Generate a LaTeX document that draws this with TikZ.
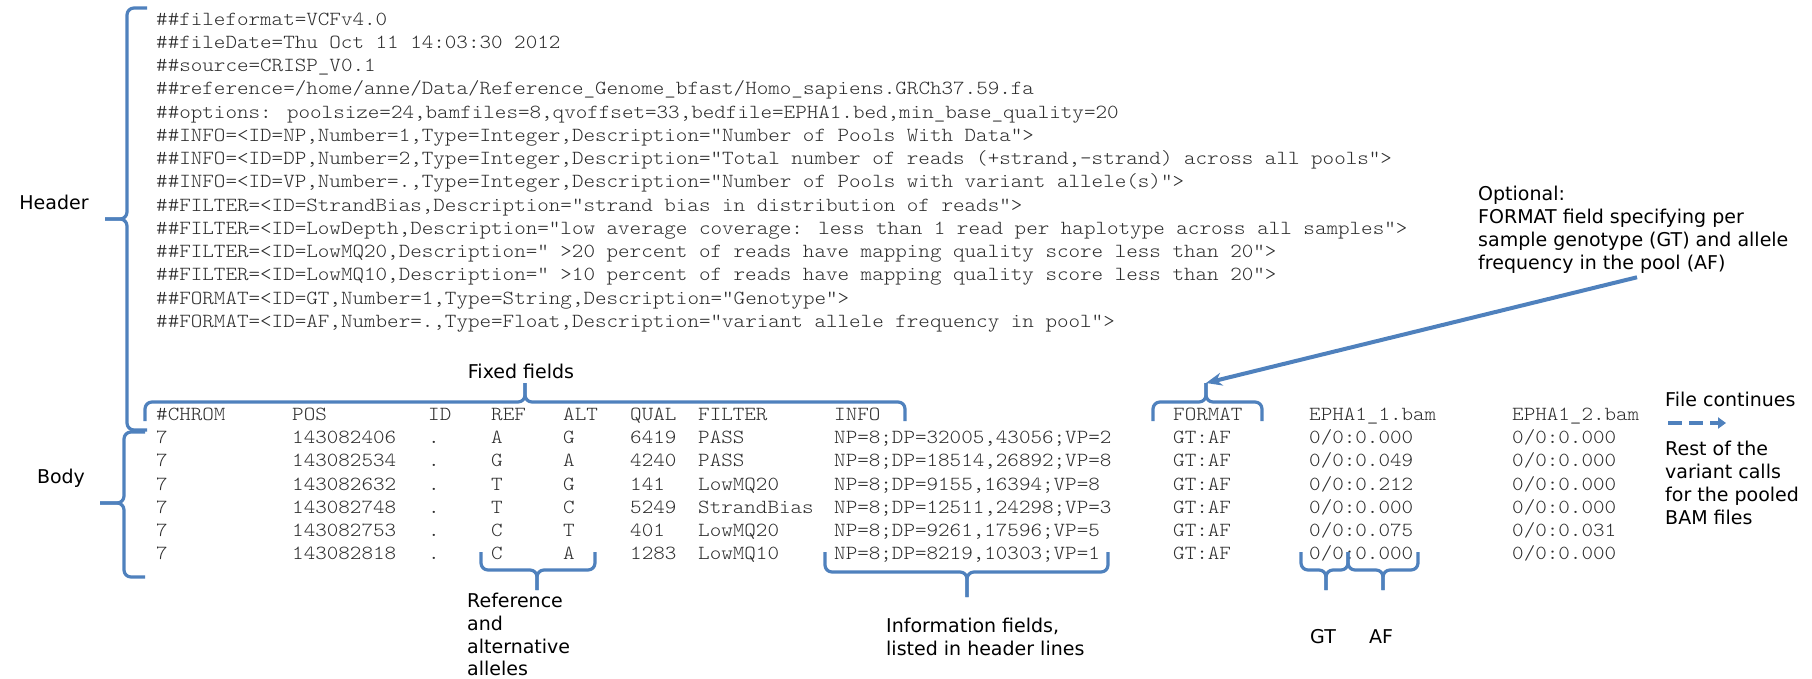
\documentclass[tikz,border=0pt]{standalone}
\usepackage{fontspec}
\newfontfamily\labelfont{DejaVu Sans}
\newfontfamily\codefont{lmmonolt10-regular.otf}[FakeStretch=1.1]
\usetikzlibrary{arrows.meta}
\definecolor{braceblue}{RGB}{79,129,189}
\definecolor{codegray}{RGB}{45,45,45}

\begin{document}
\begin{tikzpicture}[x=1pt,y=-1pt,
  code/.style={font=\codefont\fontsize{20}{24}\selectfont, text=codegray, anchor=mid west, inner sep=0pt},
  lbl/.style={font=\labelfont\fontsize{19}{23}\selectfont, text=black, inner sep=0pt, align=left},
  brace/.style={draw=braceblue, line width=3.2pt, rounded corners=7pt},
  pointer/.style={draw=braceblue, line width=4pt, -{Stealth[length=16pt,width=13pt]}},
  continues/.style={draw=braceblue, line width=4.5pt, dash pattern=on 14pt off 7pt, -{Triangle[length=8pt,width=11pt]}},
]
\useasboundingbox (0,0) rectangle (1812,679);
\fill[white] (0,0) rectangle (1812,679);

% ---------- header lines ----------
\node[code] (h1)  at (156,23.00)  {\#\#fileformat=VCFv4.0};
\node[code] (h2)  at (156,46.25)  {\#\#fileDate=Thu Oct 11 14:03:30 2012};
\node[code] (h3)  at (156,69.50)  {\#\#source=CRISP\_V0.1};
\node[code] (h4)  at (156,92.75)  {\#\#reference=/home/anne/Data/Reference\_Genome\_bfast/Homo\_sapiens.GRCh37.59.fa};
\node[code] (h5)  at (156,116.00) {\#\#options: poolsize=24,bamfiles=8,qvoffset=33,bedfile=EPHA1.bed,min\_base\_quality=20};
\node[code] (h6)  at (156,139.25) {\#\#INFO=<ID=NP,Number=1,Type=Integer,Description="Number of Pools With Data">};
\node[code] (h7)  at (156,162.50) {\#\#INFO=<ID=DP,Number=2,Type=Integer,Description="Total number of reads (+strand,-strand) across all pools">};
\node[code] (h8)  at (156,185.75) {\#\#INFO=<ID=VP,Number=.,Type=Integer,Description="Number of Pools with variant allele(s)">};
\node[code] (h9)  at (156,209.00) {\#\#FILTER=<ID=StrandBias,Description="strand bias in distribution of reads">};
\node[code] (h10) at (156,232.25) {\#\#FILTER=<ID=LowDepth,Description="low average coverage: less than 1 read per haplotype across all samples">};
\node[code] (h11) at (156,255.50) {\#\#FILTER=<ID=LowMQ20,Description=" >20 percent of reads have mapping quality score less than 20">};
\node[code] (h12) at (156,278.75) {\#\#FILTER=<ID=LowMQ10,Description=" >10 percent of reads have mapping quality score less than 20">};
\node[code] (h13) at (156,302.00) {\#\#FORMAT=<ID=GT,Number=1,Type=String,Description="Genotype">};
\node[code] (h14) at (156,325.25) {\#\#FORMAT=<ID=AF,Number=.,Type=Float,Description="variant allele frequency in pool">};

% ---------- body: column titles ----------
\node[code] (t-chrom)  at (156,418)  {\#CHROM};
\node[code] (t-pos)    at (292,418)  {POS};
\node[code] (t-id)     at (428,418)  {ID};
\node[code] (t-ref)    at (491,418)  {REF};
\node[code] (t-alt)    at (563,418)  {ALT};
\node[code] (t-qual)   at (630,418)  {QUAL};
\node[code] (t-filter) at (698,418)  {FILTER};
\node[code] (t-info)   at (834,418)  {INFO};
\node[code] (t-format) at (1173,418) {FORMAT};
\node[code] (t-s1)     at (1309,418) {EPHA1\_1.bam};
\node[code] (t-s2)     at (1512,418) {EPHA1\_2.bam};

% ---------- body: records ----------
\foreach \v [count=\i] in {7,7,7,7,7,7}
  \node[code] (chrom-\i) at (156,418+23.3*\i) {\v};
\foreach \v [count=\i] in {143082406,143082534,143082632,143082748,143082753,143082818}
  \node[code] (pos-\i) at (292,418+23.3*\i) {\v};
\foreach \v [count=\i] in {.,.,.,.,.,.}
  \node[code] (id-\i) at (428,418+23.3*\i) {\v};
\foreach \v [count=\i] in {A,G,T,T,C,C}
  \node[code] (ref-\i) at (491,418+23.3*\i) {\v};
\foreach \v [count=\i] in {G,A,G,C,T,A}
  \node[code] (alt-\i) at (563,418+23.3*\i) {\v};
\foreach \v [count=\i] in {6419,4240,141,5249,401,1283}
  \node[code] (qual-\i) at (630,418+23.3*\i) {\v};
\foreach \v [count=\i] in {PASS,PASS,LowMQ20,StrandBias,LowMQ20,LowMQ10}
  \node[code] (filter-\i) at (698,418+23.3*\i) {\v};
\foreach \v [count=\i] in {{NP=8;DP=32005,43056;VP=2},{NP=8;DP=18514,26892;VP=8},{NP=8;DP=9155,16394;VP=8},{NP=8;DP=12511,24298;VP=3},{NP=8;DP=9261,17596;VP=5},{NP=8;DP=8219,10303;VP=1}}
  \node[code] (info-\i) at (834,418+23.3*\i) {\v};
\foreach \v [count=\i] in {GT:AF,GT:AF,GT:AF,GT:AF,GT:AF,GT:AF}
  \node[code] (format-\i) at (1173,418+23.3*\i) {\v};
\foreach \v [count=\i] in {0/0:0.000,0/0:0.049,0/0:0.212,0/0:0.000,0/0:0.075,0/0:0.000}
  \node[code] (s1-\i) at (1309,418+23.3*\i) {\v};
\foreach \v [count=\i] in {0/0:0.000,0/0:0.000,0/0:0.000,0/0:0.000,0/0:0.031,0/0:0.000}
  \node[code] (s2-\i) at (1512,418+23.3*\i) {\v};

% ---------- braces ----------
% header
\draw[brace] (147,8) -- (127,8) -- (127,219) -- (105,219);
\draw[brace] (105,219) -- (127,219) -- (127,430) -- (147,430);
% body
\draw[brace] (145,432) -- (124,432) -- (124,503) -- (100,503);
\draw[brace] (100,503) -- (124,503) -- (124,577) -- (145,577);
% fixed fields
\draw[brace] (145,421) -- (145,402) -- (525,402) -- (525,383);
\draw[brace] (525,383) -- (525,402) -- (905,402) -- (905,421);
% FORMAT column
\draw[brace] (1153,421) -- (1153,402) -- (1206,402) -- (1206,383);
\draw[brace] (1206,383) -- (1206,402) -- (1262,402) -- (1262,421);
\coordinate (fmt-tip) at (1206,383);
% reference / alternative alleles
\draw[brace] (481,552) -- (481,570) -- (537,570) -- (537,590);
\draw[brace] (537,590) -- (537,570) -- (595,570) -- (595,552);
% information fields
\draw[brace] (825,552) -- (825,572) -- (967,572) -- (967,597);
\draw[brace] (967,597) -- (967,572) -- (1108,572) -- (1108,552);
% GT and AF parts of a sample value
\draw[brace] (1301,552) -- (1301,570) -- (1326,570) -- (1326,590);
\draw[brace] (1326,590) -- (1326,570) -- (1348,570) -- (1348,552);
\draw[brace] (1348,552) -- (1348,570) -- (1383,570) -- (1383,590);
\draw[brace] (1383,590) -- (1383,570) -- (1418,570) -- (1418,552);

% ---------- labels ----------
\node[lbl] (header) at (54,202) {Header};
\node[lbl] (body)   at (61,478) {Body};
\node[lbl] (fixed)  at (521,371) {Fixed fields};
\node[lbl, anchor=north west, font=\labelfont\fontsize{19}{22.7}\selectfont] (alleles) at (467,593) {Reference\\and\\alternative\\alleles};
\node[lbl, anchor=north west] (infof) at (886,617.5) {Information fields,\\listed in header lines};
\node[lbl] (gt) at (1323,637) {GT};
\node[lbl] (af) at (1381,637) {AF};
\node[lbl, anchor=north west] (optional) at (1478,185.5)
  {Optional:\\FORMAT field specifying per\\sample genotype (GT) and allele\\frequency in the pool (AF)};
\node[lbl, anchor=west] (more) at (1665,399) {File continues};
\node[lbl, anchor=north west] (rest) at (1665,440.5) {Rest of the\\variant calls\\for the pooled\\BAM files};

% ---------- connectors ----------
\draw[pointer] ([shift={(159,4)}]optional.south west) -- (fmt-tip);
\coordinate (more-a) at (1668,423);
\coordinate (more-b) at (1726,423);
\draw[continues] (more-a) -- (more-b);
\end{tikzpicture}
\end{document}
